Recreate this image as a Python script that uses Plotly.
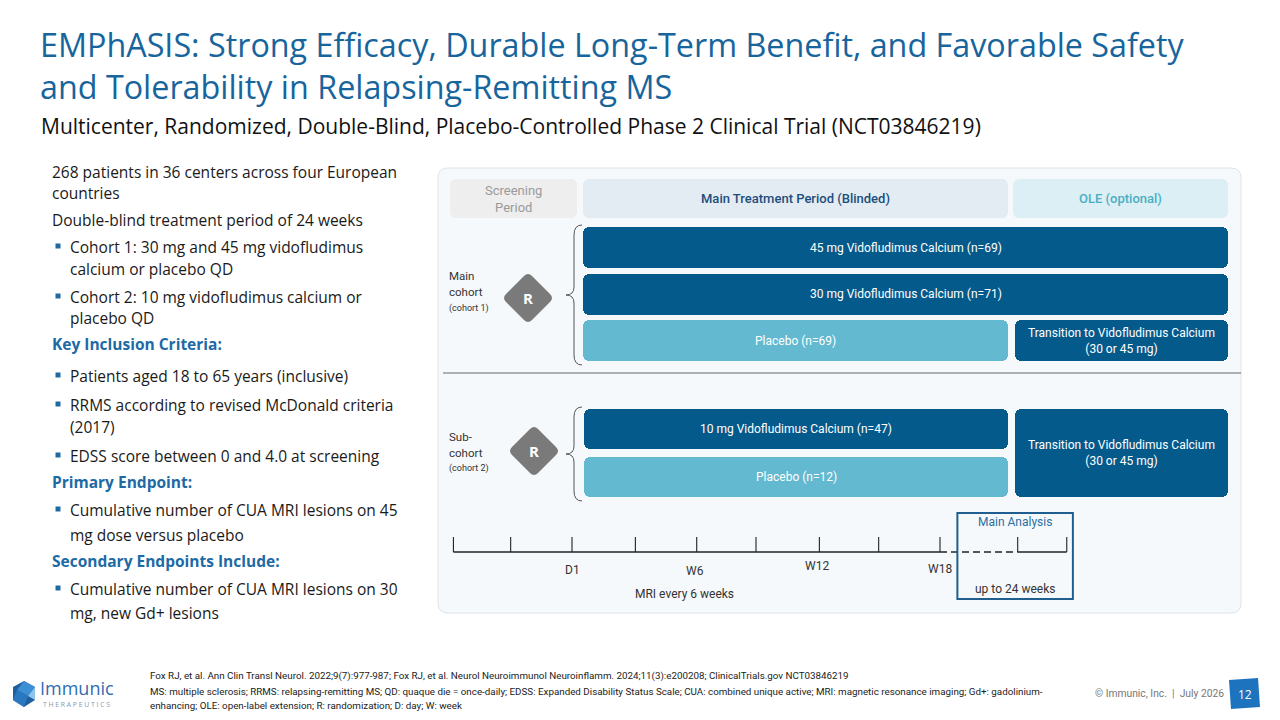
import plotly.graph_objects as go

W, H = 1280, 720

# ---------------- data ----------------
TITLE_LINES = ["EMPhASIS: Strong Efficacy, Durable Long-Term Benefit, and Favorable Safety",
               "and Tolerability in Relapsing-Remitting MS"]
SUBTITLE = "Multicenter, Randomized, Double-Blind, Placebo-Controlled Phase 2 Clinical Trial (NCT03846219)"

PERIODS = ["Screening<br>Period", "Main Treatment Period (Blinded)", "OLE (optional)"]
ARM_DOSES = ["45 mg Vidofludimus Calcium", "30 mg Vidofludimus Calcium", "Placebo",
             "10 mg Vidofludimus Calcium", "Placebo"]
ARM_N = [69, 71, 69, 47, 12]
ARM_COHORT = [1, 1, 1, 2, 2]
ARM_IS_PLACEBO = [False, False, True, False, True]
COHORT_LABELS = {1: ["Main", "cohort", "(cohort 1)"], 2: ["Sub-", "cohort", "(cohort 2)"]}
TRANSITION_LABEL = "Transition to Vidofludimus Calcium<br>(30 or 45 mg)"

TICK_WEEKS = [-5.8, -3, 0, 3.1, 6.1, 9, 12.1, 15, 18, 21.8, 24.2]
LABEL_WEEKS = [0, 6, 12, 18]
LABEL_TEXT = ["D1", "W6", "W12", "W18"]
ANALYSIS_WEEKS = [18.85, 24.5]

# kind: p = paragraph, h = heading, b = bullet first line, c = bullet continuation
LEFT_KIND = ["p", "p", "p", "b", "c", "b", "c", "h", "b", "b", "c", "b", "h", "b", "c", "h", "b", "c"]
LEFT_TEXT = ["268 patients in 36 centers across four European",
             "countries",
             "Double-blind treatment period of 24 weeks",
             "Cohort 1: 30 mg and 45 mg vidofludimus",
             "calcium or placebo QD",
             "Cohort 2: 10 mg vidofludimus calcium or",
             "placebo QD",
             "Key Inclusion Criteria:",
             "Patients aged 18 to 65 years (inclusive)",
             "RRMS according to revised McDonald criteria",
             "(2017)",
             "EDSS score between 0 and 4.0 at screening",
             "Primary Endpoint:",
             "Cumulative number of CUA MRI lesions on 45",
             "mg dose versus placebo",
             "Secondary Endpoints Include:",
             "Cumulative number of CUA MRI lesions on 30",
             "mg, new Gd+ lesions"]
LEFT_Y = [172, 193, 220, 247, 269, 297, 318, 344, 376, 405, 427, 456, 482, 510, 535, 561, 589, 613]

FOOTNOTES = [
    "Fox RJ, et al. Ann Clin Transl Neurol. 2022;9(7):977-987; Fox RJ, et al. Neurol Neuroimmunol Neuroinflamm. 2024;11(3):e200208; ClinicalTrials.gov NCT03846219",
    "MS: multiple sclerosis; RRMS: relapsing-remitting MS; QD: quaque die = once-daily; EDSS: Expanded Disability Status Scale; CUA: combined unique active; MRI: magnetic resonance imaging; Gd+: gadolinium-",
    "enhancing; OLE: open-label extension; R: randomization; D: day; W: week",
]
COPYRIGHT = "© Immunic, Inc.  |  July 2026"
PAGE = "12"

# ---------------- styling / geometry ----------------
BLUE_T = "#17659C"
DARK = "#055A8C"
PLAC = "#63B9CF"
BODY_FONT = "Open Sans"
SMALL_FONT = "Roboto"

PERIOD_X = [(450, 577), (583, 1008), (1013, 1228)]
PERIOD_FILL = ["#EEEEEE", "#E4ECF3", "#DCEFF4"]
PERIOD_TXT = ["#9A9A9A", "#1C4E7B", "#4AAEC4"]
HEAD_Y = (179, 218)
COHORT_TOP = {1: 227, 2: 409}
COHORT_PITCH = {1: 46.5, 2: 48}
COHORT_H = {1: 41, 2: 40}
DIAMOND = {1: (528, 298), 2: (534, 451)}
PANEL = (438, 168, 1241, 613)

PX_PER_WK = (940 - 572) / 18.0
X2_RANGE = [-572 / PX_PER_WK, (W - 572) / PX_PER_WK]
TL_Y = 552

fig = go.Figure()
shapes, ann = [], []


def text(x, y, s, size, color="#222", font=BODY_FONT, xa="left", ya="middle", ref="x", bold=False,
         align="left", weight=None):
    w = weight if weight is not None else (700 if bold else 400)
    ann.append(dict(x=x, y=y, xref=ref, yref="y", text=s, showarrow=False, xanchor=xa, yanchor=ya,
                    align=align, font=dict(family=font, size=size, color=color, weight=w)))


def rounded_rect(x0, y0, x1, y1, r):
    return (f"M {x0+r},{y0} L {x1-r},{y0} Q {x1},{y0} {x1},{y0+r} L {x1},{y1-r} Q {x1},{y1} {x1-r},{y1} "
            f"L {x0+r},{y1} Q {x0},{y1} {x0},{y1-r} L {x0},{y0+r} Q {x0},{y0} {x0+r},{y0} Z")


# panel background (rounded)
shapes.append(dict(type="path", xref="x", yref="y", layer="below", path=rounded_rect(*PANEL, 10),
                   fillcolor="#F6F9FB", line=dict(color="#DCE4EB", width=1)))

# header period boxes (bars)
fig.add_trace(go.Bar(orientation="h", y=[sum(HEAD_Y) / 2] * 3, width=[HEAD_Y[1] - HEAD_Y[0]] * 3,
                     base=[p[0] for p in PERIOD_X], x=[p[1] - p[0] for p in PERIOD_X],
                     marker=dict(color=PERIOD_FILL, cornerradius=6, line=dict(width=0)),
                     hoverinfo="skip", showlegend=False))
for i, lab in enumerate(PERIODS):
    text(sum(PERIOD_X[i]) / 2, sum(HEAD_Y) / 2, lab, 13, PERIOD_TXT[i], SMALL_FONT, xa="center",
         weight=(500 if i > 0 else 400), align="center")

# arm bars
bx, bb, by, bw, bc = [], [], [], [], []
idx_in = {1: 0, 2: 0}
arm_rows = {1: [], 2: []}
for dose, n, c, plc in zip(ARM_DOSES, ARM_N, ARM_COHORT, ARM_IS_PLACEBO):
    k = idx_in[c]
    idx_in[c] += 1
    top = COHORT_TOP[c] + k * COHORT_PITCH[c]
    h = COHORT_H[c]
    x0 = PERIOD_X[1][0] + (c - 1)
    x1 = PERIOD_X[1][1] if (plc or c == 2) else PERIOD_X[2][1]
    bb.append(x0); bx.append(x1 - x0); by.append(top + h / 2); bw.append(h)
    bc.append(PLAC if plc else DARK)
    arm_rows[c].append((top, top + h))
    text((x0 + x1) / 2, top + h / 2, f"{dose} (n={n})", 12, "white", SMALL_FONT, xa="center")

# transition boxes
for c in (1, 2):
    if c == 1:
        top, bot = arm_rows[1][-1]
    else:
        top, bot = arm_rows[2][0][0], arm_rows[2][-1][1]
    x0 = PERIOD_X[2][0] + 2
    bb.append(x0); bx.append(PERIOD_X[2][1] - x0); by.append((top + bot) / 2); bw.append(bot - top)
    bc.append(DARK)
    text((x0 + PERIOD_X[2][1]) / 2, (top + bot) / 2, TRANSITION_LABEL, 12, "white", SMALL_FONT,
         xa="center", align="center")

fig.add_trace(go.Bar(orientation="h", y=by, width=bw, base=bb, x=bx,
                     marker=dict(color=bc, cornerradius=6, line=dict(width=0)),
                     hoverinfo="skip", showlegend=False))

# braces, diamonds, cohort labels
for c in (1, 2):
    top = arm_rows[c][0][0] - 2
    bot = arm_rows[c][-1][1] + 4
    mid = (top + bot) / 2
    xr, xm, xc = 582, 574, 566
    shapes.append(dict(type="path", xref="x", yref="y", line=dict(color="#555", width=1),
                       path=f"M {xr},{top} Q {xm},{top} {xm},{top+10} L {xm},{mid-8} Q {xm},{mid} {xc},{mid} "
                            f"Q {xm},{mid} {xm},{mid+8} L {xm},{bot-10} Q {xm},{bot} {xr},{bot}"))
    cx, cy = DIAMOND[c]
    r, q = 26, 4
    shapes.append(dict(type="path", xref="x", yref="y", fillcolor="#7A7A7A", line=dict(width=0),
                       path=f"M {cx-q},{cy-r+q} Q {cx},{cy-r} {cx+q},{cy-r+q} L {cx+r-q},{cy-q} Q {cx+r},{cy} {cx+r-q},{cy+q} "
                            f"L {cx+q},{cy+r-q} Q {cx},{cy+r} {cx-q},{cy+r-q} L {cx-r+q},{cy+q} Q {cx-r},{cy} {cx-r+q},{cy-q} Z"))
    text(cx, cy, "R", 15, "white", BODY_FONT, xa="center", bold=True)
    labs = COHORT_LABELS[c]
    ys = [276, 292, 308] if c == 1 else [437, 453, 468]
    text(447, ys[0], labs[0], 11.5, "#333", SMALL_FONT)
    text(447, ys[1], labs[1], 11.5, "#333", SMALL_FONT)
    text(447, ys[2], labs[2], 9, "#333", SMALL_FONT)

# cohort divider
shapes.append(dict(type="line", x0=443, x1=1241, y0=373, y1=373, xref="x", yref="y",
                   line=dict(color="#666", width=1)))

# timeline
seg_solid1 = [TICK_WEEKS[0], LABEL_WEEKS[-1]]
seg_dash = [LABEL_WEEKS[-1], TICK_WEEKS[-2]]
seg_solid2 = [TICK_WEEKS[-2], TICK_WEEKS[-1]]
fig.add_trace(go.Scatter(x=seg_solid1 + [None] + seg_solid2, y=[TL_Y, TL_Y, None, TL_Y, TL_Y], xaxis="x2",
                         mode="lines", line=dict(color="#222", width=1.3), hoverinfo="skip", showlegend=False))
fig.add_trace(go.Scatter(x=seg_dash, y=[TL_Y, TL_Y], xaxis="x2", mode="lines",
                         line=dict(color="#222", width=1.3, dash="7px,4px"), hoverinfo="skip", showlegend=False))
tx, ty = [], []
for w in TICK_WEEKS:
    tx += [w, w, None]
    ty += [TL_Y - 15, TL_Y, None]
fig.add_trace(go.Scatter(x=tx, y=ty, xaxis="x2", mode="lines", line=dict(color="#222", width=1.1),
                         hoverinfo="skip", showlegend=False))
lab_y = [570, 571, 566, 569]
for w, s, yy in zip(LABEL_WEEKS, LABEL_TEXT, lab_y):
    text(w, yy, s, 12, "#333", SMALL_FONT, xa="center", ref="x2")
text(5.5, 594, "MRI every 6 weeks", 12, "#333", SMALL_FONT, xa="center", ref="x2")

# main analysis box
shapes.append(dict(type="rect", x0=ANALYSIS_WEEKS[0], x1=ANALYSIS_WEEKS[1], y0=513, y1=599, xref="x2", yref="y",
                   line=dict(color="#1F5E8E", width=2), fillcolor="rgba(0,0,0,0)"))
amid = sum(ANALYSIS_WEEKS) / 2
text(amid, 522, "Main Analysis", 12, "#2A6FA3", SMALL_FONT, xa="center", ref="x2")
text(amid, 589, "up to 24 weeks", 12, "#333", SMALL_FONT, xa="center", ref="x2")

# title / subtitle
text(38, 64.5, "<br>".join(TITLE_LINES), 32.3, BLUE_T, BODY_FONT)
text(39, 126, SUBTITLE, 21, "#111", BODY_FONT)

# left text column
bxs, bys = [], []
for kind, s, y in zip(LEFT_KIND, LEFT_TEXT, LEFT_Y):
    if kind == "p":
        text(50, y, s, 15.5, "#1A1A1A", BODY_FONT)
    elif kind == "h":
        text(50, y, s, 15.5, "#1D6AA5", BODY_FONT, bold=True)
    else:
        text(68, y, s, 15.5, "#1A1A1A", BODY_FONT)
        if kind == "b":
            bxs.append(58); bys.append(y - 1)
fig.add_trace(go.Scatter(x=bxs, y=bys, mode="markers", marker=dict(symbol="square", size=5, color="#1D6AA5"),
                         hoverinfo="skip", showlegend=False))

# footnotes
for s, y in zip(FOOTNOTES, [676, 691, 705]):
    text(148, y, s, 9.8, "#222", SMALL_FONT)
text(1093, 693, COPYRIGHT, 10.3, "#777", SMALL_FONT)

# page number (slightly rotated square)
shapes.append(dict(type="path", xref="x", yref="y", fillcolor="#1E73BE", line=dict(width=0),
                   path="M 1229,680 L 1258,678 L 1260,707 L 1231,709 Z"))
text(1245, 694, PAGE, 12, "white", BODY_FONT, xa="center")

# logo
shapes += [
    dict(type="path", xref="x", yref="y", fillcolor="#1F5F9E", line=dict(width=0),
         path="M 24,681 L 35,687 L 35,700 L 24,707 L 13,700 L 13,687 Z"),
    dict(type="path", xref="x", yref="y", fillcolor="#3C8FD3", line=dict(width=0),
         path="M 24,681 L 35,687 L 28,696 L 17,690 Z"),
    dict(type="path", xref="x", yref="y", fillcolor="#8CC6EC", line=dict(width=0),
         path="M 28,696 L 35,687 L 35,700 Z"),
    dict(type="path", xref="x", yref="y", fillcolor="#2A78BF", line=dict(width=0),
         path="M 13,700 L 17,690 L 28,696 L 24,707 Z"),
]
text(38, 688, "Immunic", 18, "#2F6DB0", BODY_FONT)
text(41, 704, "T H E R A P E U T I C S", 6.8, "#8A9AA8", BODY_FONT)

fig.update_layout(
    width=W, height=H, margin=dict(l=0, r=0, t=0, b=0),
    paper_bgcolor="white", plot_bgcolor="white", barmode="overlay", bargap=0,
    xaxis=dict(range=[0, W], visible=False, fixedrange=True),
    xaxis2=dict(range=X2_RANGE, overlaying="x", visible=False, fixedrange=True),
    yaxis=dict(range=[H, 0], visible=False, fixedrange=True),
    shapes=shapes, annotations=ann, showlegend=False,
)
fig.write_html("out.html", config={"displayModeBar": False},
               post_script="document.body.style.margin='0';document.body.style.overflow='hidden';")
